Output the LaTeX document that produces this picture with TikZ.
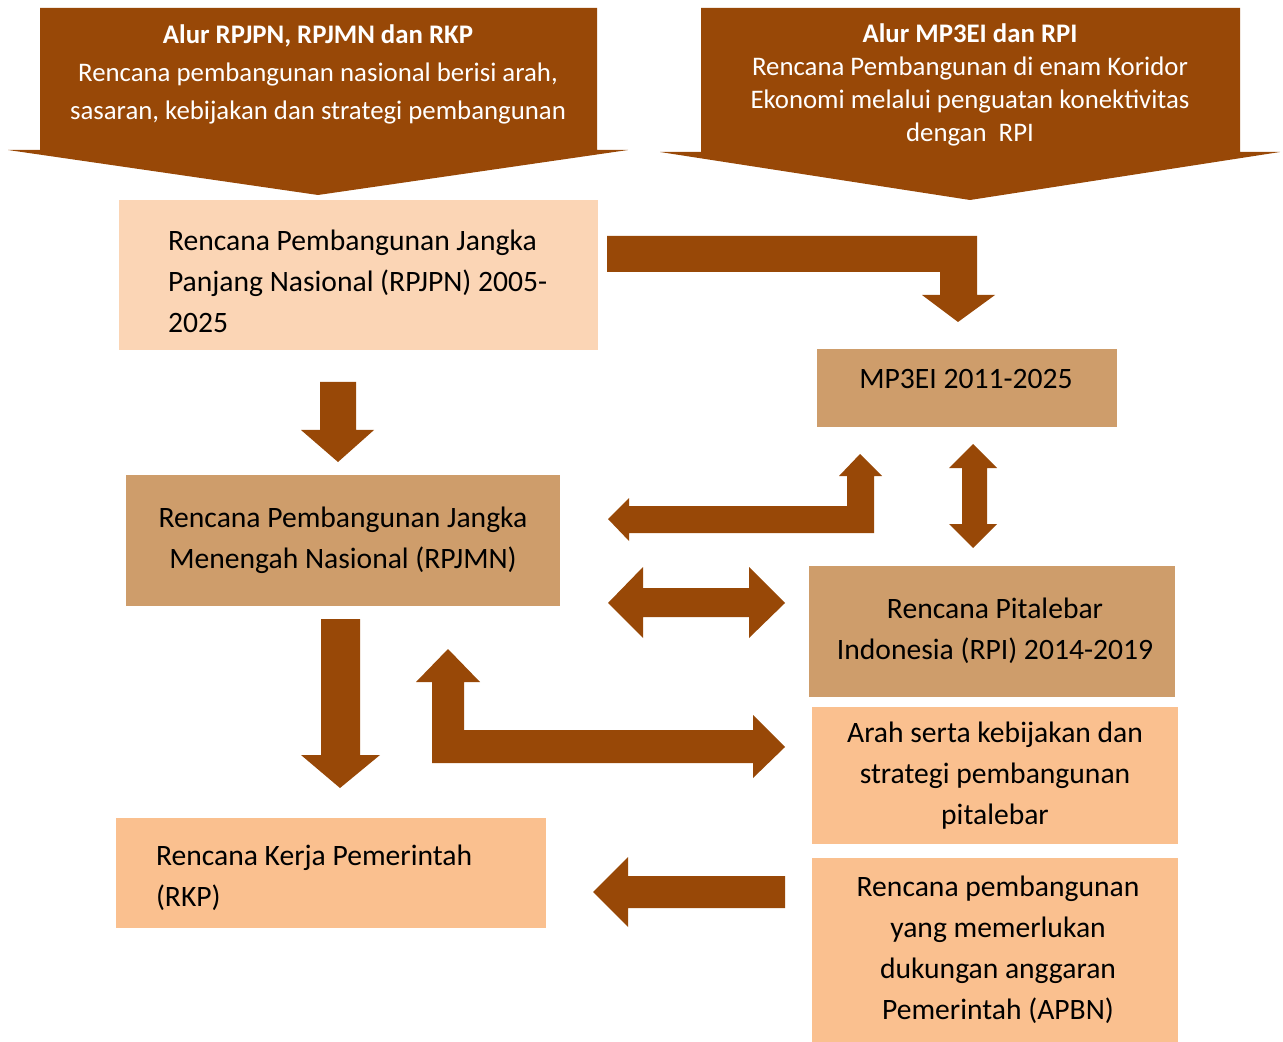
\documentclass[tikz,border=0pt]{standalone}
\usepackage{fontspec}
\setmainfont{Carlito}
\usepackage{tikz}
\definecolor{darkbrown}{HTML}{984807}
\definecolor{tanbox}{HTML}{CE9D6B}
\definecolor{lightpeach}{HTML}{FBD5B5}
\definecolor{peach}{HTML}{FAC08F}
\newcommand{\px}{0.5pt}
\tikzset{
  boxtext/.style={inner sep=0pt, font=\fontsize{14.8}{20.5}\selectfont},
  lightbox/.style={boxtext, fill=lightpeach},
  tanfill/.style={boxtext, fill=tanbox, align=center},
  peachbox/.style={boxtext, fill=peach},
  bannertext/.style={text=white, align=center, inner sep=0pt}
}
\begin{document}
\begin{tikzpicture}[x=0.5pt,y=-0.5pt]
\useasboundingbox (0,0) rectangle (1283,1042);
\fill [darkbrown] (40,8) -- (597,8) -- (597,150) -- (628,150) -- (318,195) -- (8,150) -- (40,150) -- cycle;
\node [bannertext, font=\fontsize{13.4}{19}\selectfont] (banner1) at (318,74)
  {\textbf{Alur RPJPN, RPJMN dan RKP}\\Rencana pembangunan nasional berisi arah,\\sasaran, kebijakan dan strategi pembangunan};
\fill [darkbrown] (701,8) -- (1240,8) -- (1240,152) -- (1280,152) -- (970,200) -- (660,152) -- (701,152) -- cycle;
\node [bannertext, font=\fontsize{13.4}{16.5}\selectfont] (banner2) at (970,85)
  {\textbf{Alur MP3EI dan RPI}\\Rencana Pembangunan di enam Koridor\\Ekonomi melalui penguatan konektivitas\\dengan\ \ RPI};
\node [lightbox, minimum width=479*\px, minimum height=150*\px] (rpjpn) at (358.5,275) {};
\node [boxtext, text width=381*\px, align=flush left] (rpjpntext) at (358.5,281)
  {Rencana Pembangunan Jangka\\Panjang Nasional (RPJPN) 2005-\\2025};
\node [tanfill, minimum width=300*\px, minimum height=78*\px] (mp3ei) at (967,388) {};
\node [boxtext] (mp3eitext) at (966,379) {MP3EI 2011-2025};
\node [tanfill, minimum width=434*\px, minimum height=131*\px] (rpjmn) at (343,540.5)
  {Rencana Pembangunan Jangka\\Menengah Nasional (RPJMN)};
\node [tanfill, minimum width=366*\px, minimum height=131*\px] (rpi) at (992,631.5) {};
\node [boxtext, align=center] (rpitext) at (995,630.5)
  {Rencana Pitalebar\\Indonesia (RPI) 2014-2019};
\node [peachbox, minimum width=366*\px, minimum height=137*\px, align=center] (arah) at (995,775.5)
  {Arah serta kebijakan dan\\strategi pembangunan\\pitalebar};
\node [peachbox, minimum width=430*\px, minimum height=110*\px] (rkp) at (331,873) {};
\node [boxtext, text width=350*\px, align=flush left] (rkptext) at (331,878)
  {Rencana Kerja Pemerintah\\(RKP)};
\node [peachbox, minimum width=366*\px, minimum height=184*\px] (apbn) at (995,950) {};
\node [boxtext, align=center] (apbntext) at (998,950)
  {Rencana pembangunan\\yang memerlukan\\dukungan anggaran\\Pemerintah (APBN)};
\fill [darkbrown] (607,236) -- (977,236) -- (977,295) -- (995,295) -- (958,322) -- (922,295) -- (940,295) -- (940,272) -- (607,272) -- cycle;
\fill [darkbrown] (320,382) -- (356,382) -- (356,430) -- (374,430) -- (338,462) -- (301,430) -- (320,430) -- cycle;
\fill [darkbrown] (608,519) -- (629,498) -- (629,506) -- (847,506) -- (847,476) -- (839,476) -- (860,454) -- (882,476) -- (874,476) -- (874,533) -- (629,533) -- (629,541) -- cycle;
\fill [darkbrown] (973,444) -- (997,468) -- (987,468) -- (987,524) -- (997,524) -- (973,548) -- (949,524) -- (962,524) -- (962,468) -- (949,468) -- cycle;
\fill [darkbrown] (608,603) -- (643,567) -- (643,588) -- (749,588) -- (749,567) -- (785,603) -- (749,638) -- (749,617) -- (643,617) -- (643,638) -- cycle;
\fill [darkbrown] (448,649) -- (480,682) -- (464,682) -- (464,730) -- (753,730) -- (753,715) -- (785,747) -- (753,778) -- (753,763) -- (432,763) -- (432,682) -- (416,682) -- cycle;
\fill [darkbrown] (321,619) -- (360,619) -- (360,755) -- (380,755) -- (340,788) -- (301,755) -- (321,755) -- cycle;
\fill [darkbrown] (593,892) -- (628,857) -- (628,876) -- (785,876) -- (785,908) -- (628,908) -- (628,927) -- cycle;
\end{tikzpicture}
\end{document}
